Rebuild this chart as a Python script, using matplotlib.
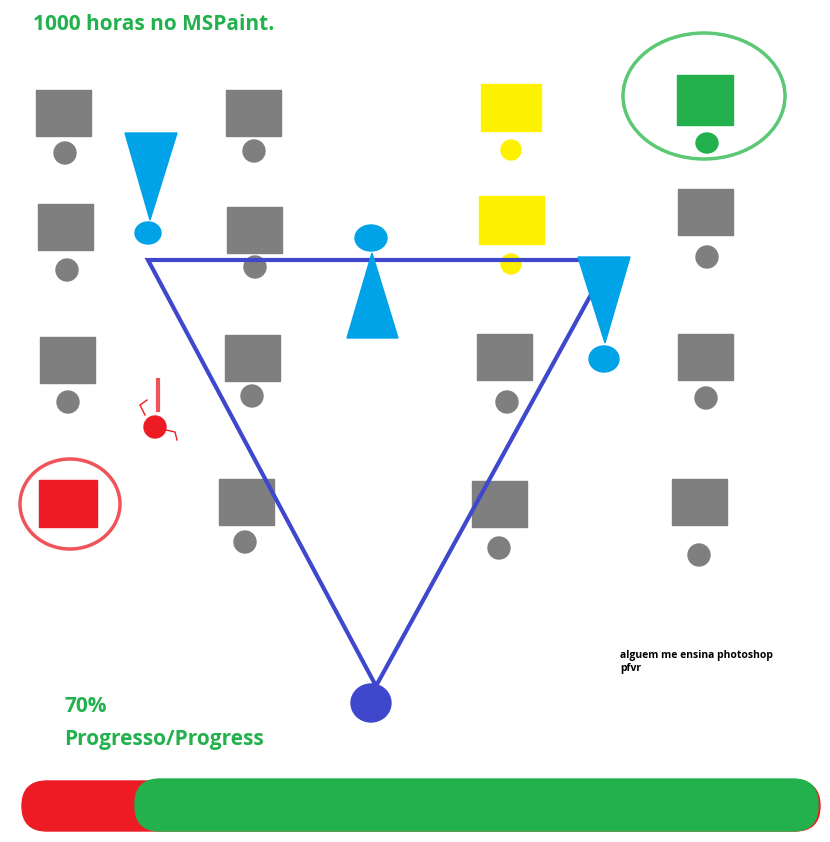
import matplotlib.pyplot as plt
from matplotlib.patches import Rectangle, Ellipse, Polygon, FancyBboxPatch

GRAY = '#7f7f7f'
CYAN = '#00a2e8'
BLUE = '#3f48cc'
GREEN = '#22b14c'
RED = '#ed1c24'
YELLOW = '#fff200'

# gray desks: square center x, y, width, height ; chair dot x, y
gray_sq = [(63, 113, 55, 46), (253, 113, 55, 46), (65, 227, 55, 46), (254, 230, 55, 46),
           (705, 212, 55, 46), (67, 360, 55, 46), (252, 358, 55, 46), (504, 357, 55, 46),
           (705, 357, 55, 46), (246, 502, 55, 46), (499, 504, 55, 46), (699, 502, 55, 46)]
gray_dot = [(65, 153), (254, 151), (67, 270), (255, 267), (707, 257), (68, 402),
            (252, 396), (507, 402), (706, 398), (245, 542), (499, 548), (699, 555)]
yellow_sq = [(511, 107, 60, 47), (511, 220, 65, 48)]
yellow_dot = [(511, 150), (511, 264)]
green_sq = (705, 100, 56, 50)
green_dot = (707, 143)
red_sq = (68, 503, 58, 47)

tri_blue = [(148, 260), (610, 260), (376, 686)]
blue_dot = (371, 703)
cyan_tris = [[(125, 133), (177, 133), (150, 220)],
             [(347, 338), (398, 338), (372, 253)],
             [(578, 257), (630, 257), (605, 343)]]
cyan_dots = [(148, 233, 26, 22), (371, 238, 32, 26), (604, 359, 30, 26)]

progress = 0.70
bar_x0, bar_x1 = 22, 820

fig = plt.figure(figsize=(8.3, 8.42), dpi=100)
ax = fig.add_axes([0, 0, 1, 1])
ax.set_xlim(0, 830)
ax.set_ylim(842, 0)
ax.axis('off')

for x, y, w, h in gray_sq:
    ax.add_patch(Rectangle((x - w / 2, y - h / 2), w, h, color=GRAY))
for x, y in gray_dot:
    ax.add_patch(Ellipse((x, y), 22, 22, color=GRAY))
for x, y, w, h in yellow_sq:
    ax.add_patch(Rectangle((x - w / 2, y - h / 2), w, h, color=YELLOW))
for x, y in yellow_dot:
    ax.add_patch(Ellipse((x, y), 20, 20, color=YELLOW))

x, y, w, h = green_sq
ax.add_patch(Rectangle((x - w / 2, y - h / 2), w, h, color=GREEN))
ax.add_patch(Ellipse(green_dot, 22, 20, color=GREEN))
ax.add_patch(Ellipse((704, 96), 162, 126, fill=False, ec='#5bc875', lw=2.5))

x, y, w, h = red_sq
ax.add_patch(Rectangle((x - w / 2, y - h / 2), w, h, color=RED))
ax.add_patch(Ellipse((70, 504), 100, 90, fill=False, ec='#f0545a', lw=2.5))

# little red guy
ax.add_patch(Ellipse((155, 427), 22, 22, color=RED))
ax.plot([158, 158], [380, 410], color='#f0545a', lw=3)
ax.plot([145, 140, 147], [415, 405, 400], color=RED, lw=1)
ax.plot([166, 175, 177], [430, 432, 440], color=RED, lw=1)

ax.add_patch(Polygon(tri_blue, closed=True, fill=False, ec=BLUE, lw=3))
ax.add_patch(Ellipse(blue_dot, 40, 38, color=BLUE))
for t in cyan_tris:
    ax.add_patch(Polygon(t, closed=True, color=CYAN))
for x, y, w, h in cyan_dots:
    ax.add_patch(Ellipse((x, y), w, h, color=CYAN))

# progress bar
ax.add_patch(FancyBboxPatch((bar_x0, 781), bar_x1 - bar_x0, 50,
                            boxstyle='round,pad=0,rounding_size=25', color=RED,
                            mutation_aspect=1))
gx0 = bar_x0 + (1 - progress) * 0 + 113
ax.add_patch(FancyBboxPatch((gx0, 779), bar_x1 - 2 - gx0, 52,
                            boxstyle='round,pad=0,rounding_size=25', color=GREEN))

ax.text(33, 25, '1000 horas no MSPaint.', color=GREEN, fontsize=15,
        fontweight='bold', va='center', family='Open Sans')
ax.text(64, 706, f'{int(progress * 100)}%', color=GREEN, fontsize=15,
        fontweight='bold', va='center', family='Open Sans')
ax.text(64, 739, 'Progresso/Progress', color=GREEN, fontsize=15,
        fontweight='bold', va='center', family='Open Sans')
ax.text(620, 662, 'alguem me ensina photoshop\npfvr', color='black', fontsize=7.5,
        fontweight='bold', va='center', family='Open Sans', linespacing=1.3)

fig.savefig('out.png', dpi=100)
